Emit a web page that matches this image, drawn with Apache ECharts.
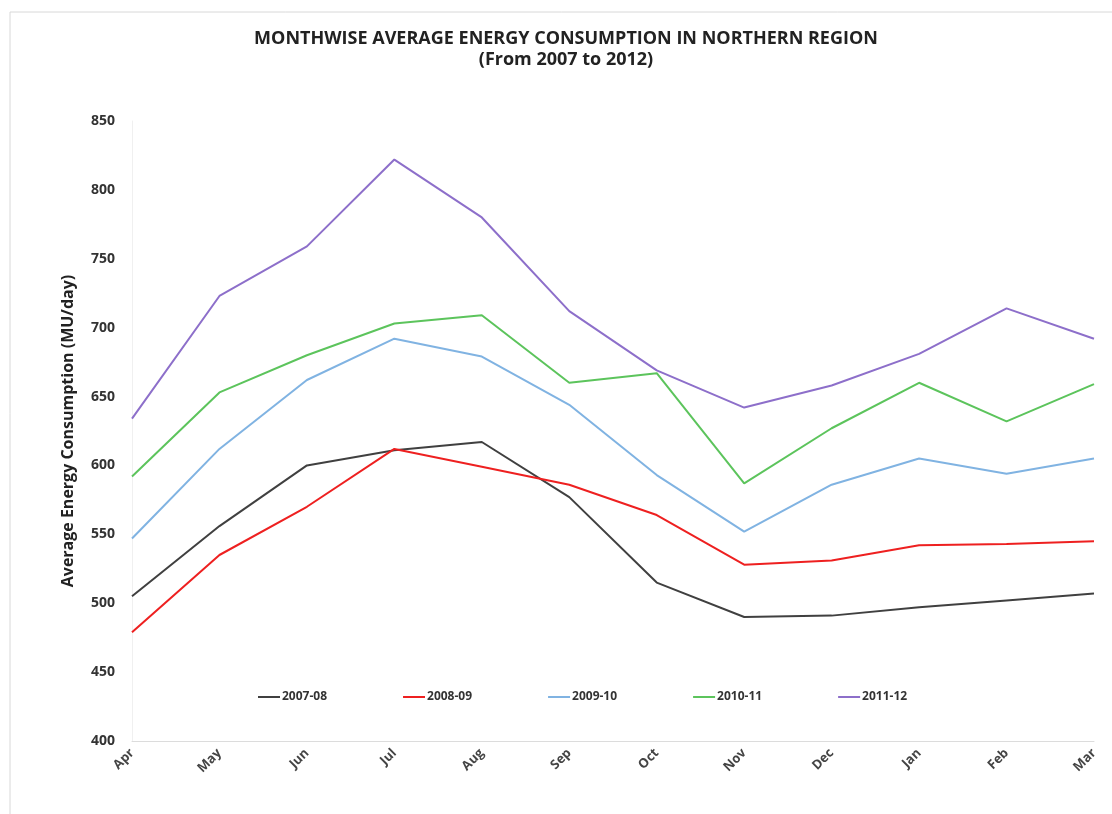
<!DOCTYPE html>
<html>
<head>
<meta charset="utf-8">
<title>Monthwise Average Energy Consumption</title>
<script src="https://cdn.jsdelivr.net/npm/echarts@6/dist/echarts.min.js"></script>
<style>
  html, body { margin: 0; padding: 0; background: #fff; }
  #main { width: 1112px; height: 814px; }
</style>
</head>
<body>
<div id="main"></div>
<script>
// months of the fiscal year
var months = ['Apr', 'May', 'Jun', 'Jul', 'Aug', 'Sep', 'Oct', 'Nov', 'Dec', 'Jan', 'Feb', 'Mar'];
var seriesNames = ['2007-08', '2008-09', '2009-10', '2010-11', '2011-12'];

// MU/day
var y2007 = [505, 556, 600, 611, 617, 577, 515, 490, 491, 497, 502, 507];
var y2008 = [479, 535, 570, 612, 599, 586, 564, 528, 531, 542, 543, 545];
var y2009 = [547, 612, 662, 692, 679, 644, 593, 552, 586, 605, 594, 605];
var y2010 = [592, 653, 680, 703, 709, 660, 667, 587, 627, 660, 632, 659];
var y2011 = [634, 723, 759, 822, 780, 712, 669, 642, 658, 681, 714, 692];

var yTicks = { min: 400, max: 850, interval: 50 };
var colors = ['#404040', '#ee2020', '#80b3e2', '#5cc45c', '#8d6fca'];

var myChart = echarts.init(document.getElementById('main'));

var allData = [y2007, y2008, y2009, y2010, y2011];
var series = [];
for (var i = 0; i < seriesNames.length; i++) {
    series.push({
        name: seriesNames[i],
        type: 'line',
        data: allData[i],
        symbol: 'none',
        lineStyle: { width: 2, color: colors[i] },
        itemStyle: { color: colors[i] }
    });
}

var option = {
    backgroundColor: '#ffffff',
    title: {
        text: 'MONTHWISE AVERAGE ENERGY CONSUMPTION IN NORTHERN REGION\n(From 2007 to 2012)',
        left: 561,
        top: 23,
        textAlign: 'center',
        textStyle: {
            fontFamily: 'Open Sans',
            fontSize: 18,
            fontWeight: 'bold',
            color: '#222',
            lineHeight: 21
        }
    },
    legend: {
        data: seriesNames,
        left: 253,
        top: 686,
        itemGap: 76,
        itemWidth: 22,
        itemHeight: 2,
        icon: 'rect',
        textStyle: { fontFamily: 'Open Sans', fontSize: 12, color: '#333', fontWeight: 'bold', padding: [0, 0, 0, -3] }
    },
    grid: {
        left: 132,
        right: 18,
        top: 121,
        bottom: 73
    },
    xAxis: {
        type: 'category',
        data: months,
        boundaryGap: false,
        axisLine: { lineStyle: { color: '#dcdcdc', width: 1 } },
        axisTick: { show: false },
        axisLabel: {
            rotate: 45,
            margin: 10,
            fontFamily: 'Open Sans',
            fontSize: 13,
            fontWeight: 'bold',
            color: '#444'
        }
    },
    yAxis: {
        type: 'value',
        min: yTicks.min,
        max: yTicks.max,
        interval: yTicks.interval,
        name: 'Average Energy Consumption (MU/day)',
        nameLocation: 'middle',
        nameGap: 56,
        nameTextStyle: { fontFamily: 'Open Sans', fontSize: 16, fontWeight: 'bold', color: '#222' },
        axisLine: { show: true, lineStyle: { color: '#f0f0f0' } },
        axisTick: { show: false },
        splitLine: { show: false },
        axisLabel: {
            margin: 17,
            fontFamily: 'Open Sans',
            fontSize: 14,
            fontWeight: 'bold',
            color: '#333'
        }
    },
    graphic: [{
        type: 'rect',
        shape: { x: 10, y: 12, width: 1110, height: 810 },
        style: { fill: 'none', stroke: '#d8d8d8', lineWidth: 1 },
        silent: true
    }],
    series: series
};

myChart.setOption(option);
</script>
</body>
</html>
